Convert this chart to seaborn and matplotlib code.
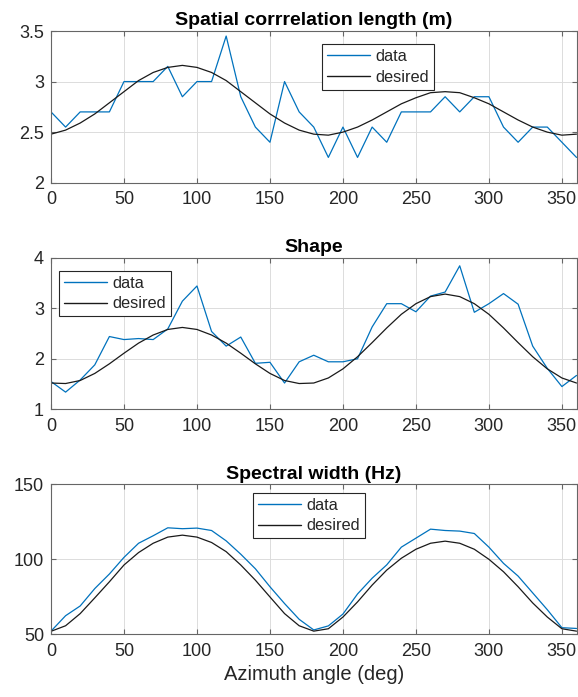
import numpy as np
import pandas as pd
import matplotlib
matplotlib.use("Agg")
import matplotlib.pyplot as plt
from matplotlib.lines import Line2D
import seaborn as sns

# ---------------- data ----------------
azimuth = list(range(0, 361, 10))

corr_data = [2.70, 2.55, 2.70, 2.70, 2.70, 3.00, 3.00, 3.00, 3.15, 2.85,
             3.00, 3.00, 3.45, 2.85, 2.55, 2.40, 3.00, 2.70, 2.55, 2.25,
             2.55, 2.25, 2.55, 2.40, 2.70, 2.70, 2.70, 2.85, 2.70, 2.85,
             2.85, 2.55, 2.40, 2.55, 2.55, 2.40, 2.25]
corr_desired = [2.48, 2.52, 2.59, 2.68, 2.79, 2.90, 3.01, 3.09, 3.14, 3.16,
                3.14, 3.09, 3.01, 2.90, 2.79, 2.68, 2.59, 2.52, 2.48, 2.47,
                2.50, 2.55, 2.62, 2.70, 2.78, 2.84, 2.89, 2.90, 2.89, 2.84,
                2.78, 2.70, 2.62, 2.55, 2.50, 2.47, 2.48]

shape_data = [1.55, 1.34, 1.58, 1.88, 2.44, 2.38, 2.40, 2.38, 2.59, 3.14,
              3.44, 2.54, 2.25, 2.43, 1.91, 1.93, 1.52, 1.94, 2.07, 1.94,
              1.94, 2.00, 2.63, 3.09, 3.09, 2.93, 3.24, 3.32, 3.84, 2.92,
              3.09, 3.29, 3.08, 2.25, 1.81, 1.45, 1.67]
shape_desired = [1.52, 1.51, 1.57, 1.71, 1.90, 2.11, 2.31, 2.47, 2.58, 2.62,
                 2.58, 2.47, 2.31, 2.11, 1.90, 1.71, 1.57, 1.51, 1.52, 1.62,
                 1.80, 2.04, 2.32, 2.61, 2.88, 3.09, 3.23, 3.28, 3.23, 3.09,
                 2.88, 2.61, 2.32, 2.04, 1.80, 1.62, 1.52]

width_data = [52.1, 62.4, 68.9, 80.5, 90.2, 101.3, 110.7, 115.7, 121.0, 120.4,
              120.8, 119.2, 112.3, 103.4, 93.7, 81.7, 70.5, 60.0, 52.9, 55.6,
              63.5, 76.9, 87.4, 96.3, 108.1, 114.1, 120.1, 119.2, 118.8, 117.2,
              108.1, 97.3, 88.8, 77.6, 66.4, 54.4, 53.9]
width_desired = [52.0, 55.7, 63.8, 74.3, 85.0, 96.2, 104.5, 110.7, 114.8, 116.1,
                 114.8, 111.2, 105.1, 96.2, 86.1, 74.9, 63.8, 55.7, 52.1, 53.7,
                 61.5, 71.6, 82.8, 92.8, 100.7, 106.7, 110.7, 112.1, 110.7, 106.7,
                 100.0, 91.7, 81.7, 70.9, 61.5, 53.7, 52.1]

titles = ["Spatial corrrelation length (m)", "Shape", "Spectral width (Hz)"]
series_names = ["data", "desired"]
x_ticks = [0, 50, 100, 150, 200, 250, 300, 350]
x_ticklabels = ["0", "50", "100", "150", "200", "250", "300", "350"]
y_ticks = [[2, 2.5, 3, 3.5], [1, 2, 3, 4], [50, 100, 150]]
y_ticklabels = [["2", "2.5", "3", "3.5"], ["1", "2", "3", "4"], ["50", "100", "150"]]
y_limits = [(2, 3.5), (1, 4), (50, 150)]
x_label = "Azimuth angle (deg)"

# ---------------- style ----------------
sns.set_theme(style="white")
plt.rcParams["font.family"] = ["Liberation Sans", "DejaVu Sans"]
plt.rcParams["axes.unicode_minus"] = False

W, H = 578, 697
fig = plt.figure(figsize=(W / 100, H / 100), dpi=100)

# axes boxes in pixels: (left, top, right, bottom)
boxes = [(51, 31, 576.5, 182.7), (51, 257.7, 576.5, 409.3), (51, 484.3, 576.5, 634.3)]
legend_anchor = [(322, 44), (59, 270.7), (253.3, 492.7)]

tick_color = "#262626"
colors = {"data": "#0072BD", "desired": "#1a1a1a"}
lw = 0.9

panels = [(corr_data, corr_desired), (shape_data, shape_desired), (width_data, width_desired)]

for i, (box, (d, des)) in enumerate(zip(boxes, panels)):
    l, t, r, b = box
    ax = fig.add_axes([l / W, 1 - b / H, (r - l) / W, (b - t) / H])
    df = pd.DataFrame({
        "azimuth": azimuth * 2,
        "value": list(d) + list(des),
        "series": [series_names[0]] * len(d) + [series_names[1]] * len(des),
    })
    sns.lineplot(data=df, x="azimuth", y="value", hue="series",
                 hue_order=series_names, palette=colors,
                 linewidth=lw, ax=ax, legend=False)
    ax.set_xlim(0, 360)
    ax.set_ylim(*y_limits[i])
    ax.set_xticks(x_ticks)
    ax.set_xticklabels(x_ticklabels)
    ax.set_yticks(y_ticks[i])
    ax.set_yticklabels(y_ticklabels[i])
    ax.set_ylabel("")
    ax.set_xlabel(x_label if i == 2 else "", fontsize=14.5, color=tick_color, labelpad=4)
    ax.set_title(titles[i], fontsize=14, fontweight="bold", color="#000000", pad=4)
    ax.grid(True, color="#dcdcdc", linewidth=0.7)
    ax.set_axisbelow(True)
    for s in ax.spines.values():
        s.set_color("#666666")
        s.set_linewidth(0.8)
        s.set_visible(True)
    ax.tick_params(axis="both", which="both", direction="in", length=3.5, width=0.8,
                   color="#666666", labelsize=13, labelcolor=tick_color,
                   top=True, right=True, bottom=True, left=True)
    ax.tick_params(axis="x", pad=6)
    ax.tick_params(axis="y", pad=5)

    lx, ly = legend_anchor[i]
    ax_x = (lx - l) / (r - l)
    ax_y = (b - ly) / (b - t)
    handles = [Line2D([0], [0], color=colors[n], linewidth=1.0) for n in series_names]
    leg = ax.legend(handles, series_names, loc="upper left", bbox_to_anchor=(ax_x, ax_y),
                    borderaxespad=0, frameon=True, fancybox=False, framealpha=1,
                    edgecolor="#262626", fontsize=11.8, handlelength=2.6,
                    handletextpad=0.35, borderpad=0.3, labelspacing=0.35)
    leg.get_frame().set_linewidth(0.8)
    for txt in leg.get_texts():
        txt.set_color(tick_color)

fig.savefig("out.png", dpi=100)
